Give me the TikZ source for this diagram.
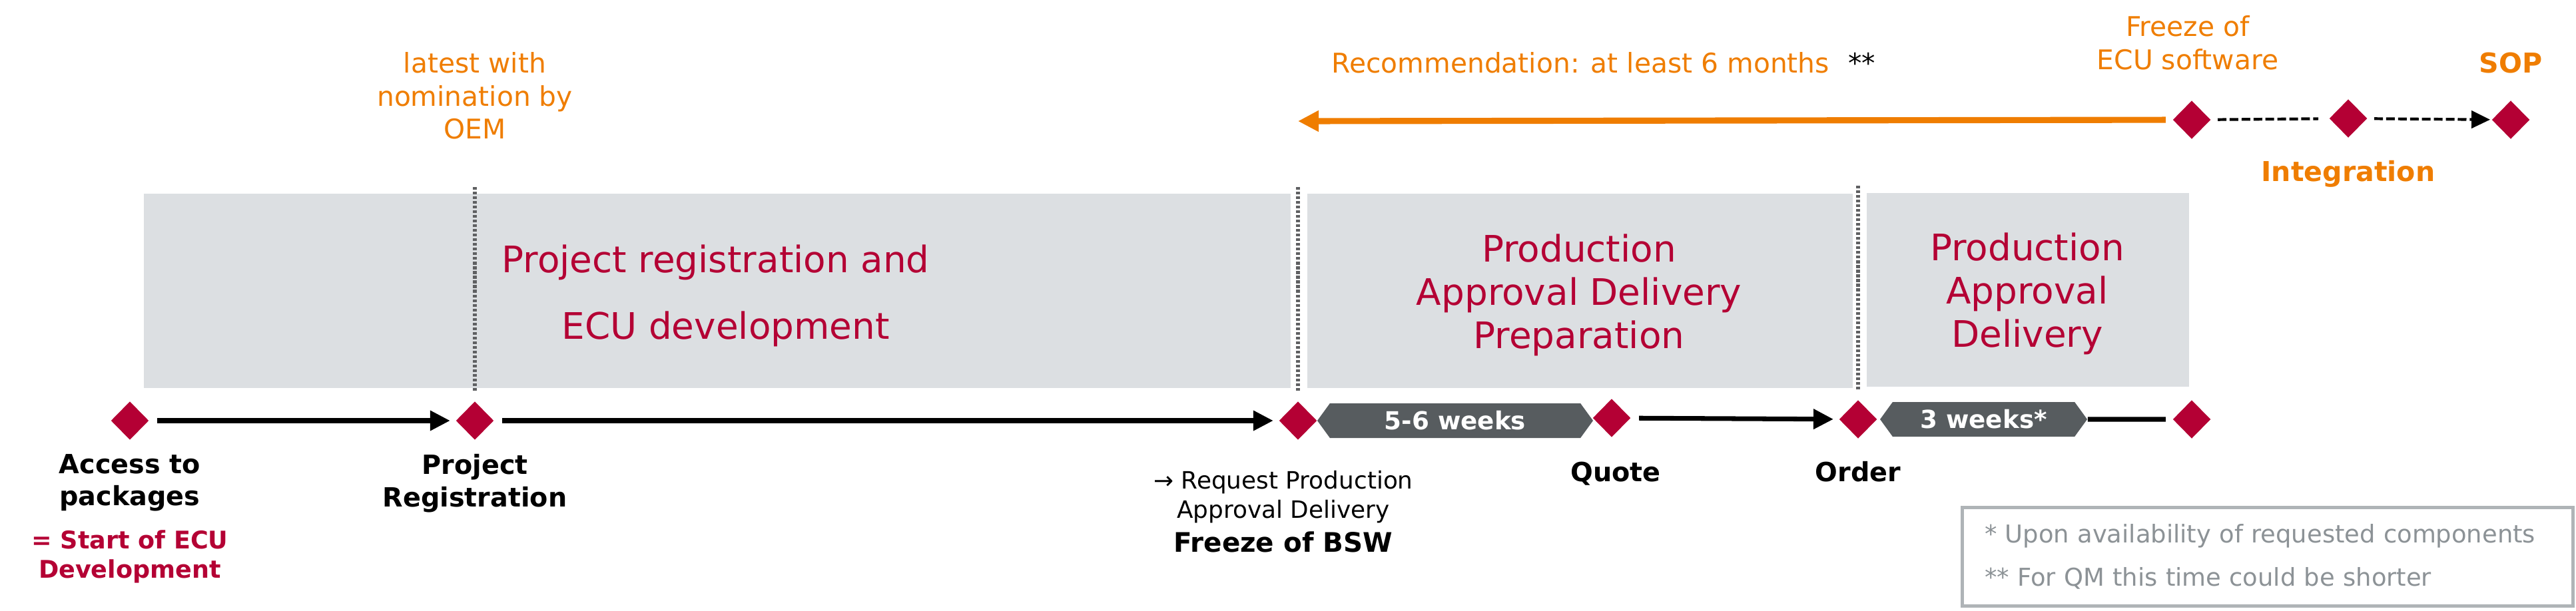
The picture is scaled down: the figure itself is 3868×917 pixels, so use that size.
\documentclass[tikz,border=0pt]{standalone}
\usepackage{fontspec}
\setmainfont{DejaVu Sans}
\usetikzlibrary{arrows.meta,shapes.geometric,shapes.symbols}

\definecolor{ecured}{RGB}{180,0,52}
\definecolor{ecuorange}{RGB}{239,125,0}
\definecolor{phasegray}{RGB}{220,223,226}
\definecolor{weekgray}{RGB}{87,92,95}
\definecolor{notegray}{RGB}{140,146,150}
\definecolor{noteframe}{RGB}{175,180,183}
\definecolor{sepgray}{RGB}{95,96,98}

\tikzset{
  milestone/.style = {diamond, fill=ecured, inner sep=0pt,
                      minimum width=5.7mm, minimum height=5.8mm},
  phase/.style     = {fill=phasegray, inner sep=0pt},
  phasetxt/.style  = {inner sep=0pt, align=center, text=ecured,
                      font=\fontsize{15.6}{18.5}\selectfont},
  weeks/.style     = {signal, signal to=east and west, signal pointer angle=108,
                      fill=weekgray, text=white, inner sep=0pt, minimum height=5.2mm,
                      font=\bfseries\fontsize{10.6}{12}\selectfont},
  msl/.style       = {align=center, inner sep=0pt, anchor=north,
                      font=\bfseries\fontsize{11.3}{13.7}\selectfont},
  orangetxt/.style = {align=center, inner sep=0pt, text=ecuorange,
                      font=\fontsize{11.6}{14.1}\selectfont},
  orangebf/.style  = {inner sep=0pt, text=ecuorange,
                      font=\bfseries\fontsize{11.7}{14}\selectfont},
  notes/.style     = {draw=noteframe, line width=1.4pt, inner sep=0pt, align=left,
                      text width=85mm, minimum width=91.7mm, minimum height=14.8mm,
                      text=notegray, font=\fontsize{10.5}{18.5}\selectfont},
  tl/.style        = {line width=2pt, -{Triangle[length=3mm,width=2.9mm]},
                      shorten <=1.2mm, shorten >=0.8mm},
  recarrow/.style  = {ecuorange, line width=2.6pt, -{Triangle[length=3.1mm,width=3mm]},
                      shorten <=1mm},
  integline/.style = {line width=1.2pt, dash pattern=on 3.7pt off 1.4pt,
                      shorten <=1mm, shorten >=1.6mm},
  sep/.style       = {sepgray, line width=1.5pt, dash pattern=on 1.2pt off 0.8pt}
}

\begin{document}
\begin{tikzpicture}[x=0.1mm, y=-0.1mm]
\useasboundingbox (0,0) rectangle (3868,917);

% phases

\node[phase, minimum width=172.2mm, minimum height=29.2mm] (pdev)  at (1077,437)   {};
\node[phase, minimum width=81.9mm,  minimum height=29.2mm] (pprep) at (2372.5,437) {};
\node[phase, minimum width=48.4mm,  minimum height=29.1mm] (pdel)  at (3045,435.5) {};

\node[phasetxt, anchor=base west] (pdevtxta) at (753,409) {Project registration and};
\node[phasetxt, anchor=base west] (pdevtxtb) at (843,509) {ECU development};
\node[phasetxt] (ppreptxt) at (2371,443) {Production\\Approval Delivery\\Preparation};
\node[phasetxt] (pdeltxt)  at (3044,441) {Production\\Approval\\Delivery};

% milestones, timeline

\node[milestone] (access)  at (195,632)  {};
\node[milestone] (projreg) at (713,632)  {};
\node[milestone] (bsw)     at (1949,632) {};
\node[milestone] (quote)   at (2420,628) {};
\node[milestone] (order)   at (2790,630) {};
\node[milestone] (pad)     at (3291,630) {};

\node[weeks, minimum width=41.4mm] (wprep) at (2185,632)   {5-6 weeks};
\node[weeks, minimum width=31.1mm] (wdel)  at (2978.5,630) {3 weeks*};

% milestones, integration

\node[milestone] (ecusw)  at (3291,180) {};
\node[milestone] (integr) at (3526,178) {};
\node[milestone] (sop)    at (3770,180) {};

% labels

\node[msl] (accesstxt) at (195,682) {Access to\\packages};
\node[msl, text=ecured, font=\bfseries\fontsize{10.4}{12.5}\selectfont] (starttxt) at (195,796)
  {= Start of ECU\\Development};
\node[msl] (projregtxt) at (713,682) {Project\\Registration};
\node[msl, font=\fontsize{10.2}{12.5}\selectfont] (bswtxt) at (1927,707)
  {→ Request Production\\Approval Delivery\\[2pt]{\bfseries\fontsize{11.5}{12.5}\selectfont Freeze of BSW}};
\node[msl] (quotetxt) at (2426,693) {Quote};
\node[msl] (ordertxt) at (2790,693) {Order};

\node[orangetxt, anchor=north] (oemtxt) at (713,78) {latest with\\nomination by\\OEM};
\node[orangetxt, anchor=base west] (rectxt) at (1999,109)
  {Recommendation: at least 6 months\hspace{8pt}\textcolor{black}{**}};
\node[orangetxt, anchor=north] (ecuswtxt) at (3285,23) {Freeze of\\ECU software};
\node[orangebf, anchor=base] (soptxt) at (3770,109) {SOP};
\node[orangebf, anchor=base] (integrtxt) at (3526,272) {Integration};

\node[notes] (notes) at (3405,836.5)
  {* Upon availability of requested components\\{}** For QM this time could be shorter};

% connectors

\draw[tl] (access) -- (projreg);
\draw[tl] (projreg) -- (bsw);
\draw[tl] (quote) -- (order);
\draw[tl, -, shorten <=0pt, shorten >=1mm] (wdel) -- (pad);

\coordinate (recend) at (1949,182);
\draw[recarrow] (ecusw) -- (recend);

\draw[integline] (ecusw) -- (integr);
\draw[integline, -{Triangle[length=2.8mm,width=2.6mm]}, shorten >=0.2mm] (integr) -- (sop);

% separators

\draw[sep] (projreg.north) ++(0,-15) -- ++(0,-307);
\draw[sep] (bsw.north) ++(0,-15) -- ++(0,-307);
\draw[sep] (order.north) ++(0,-15) -- ++(0,-307);

\end{tikzpicture}
\end{document}
